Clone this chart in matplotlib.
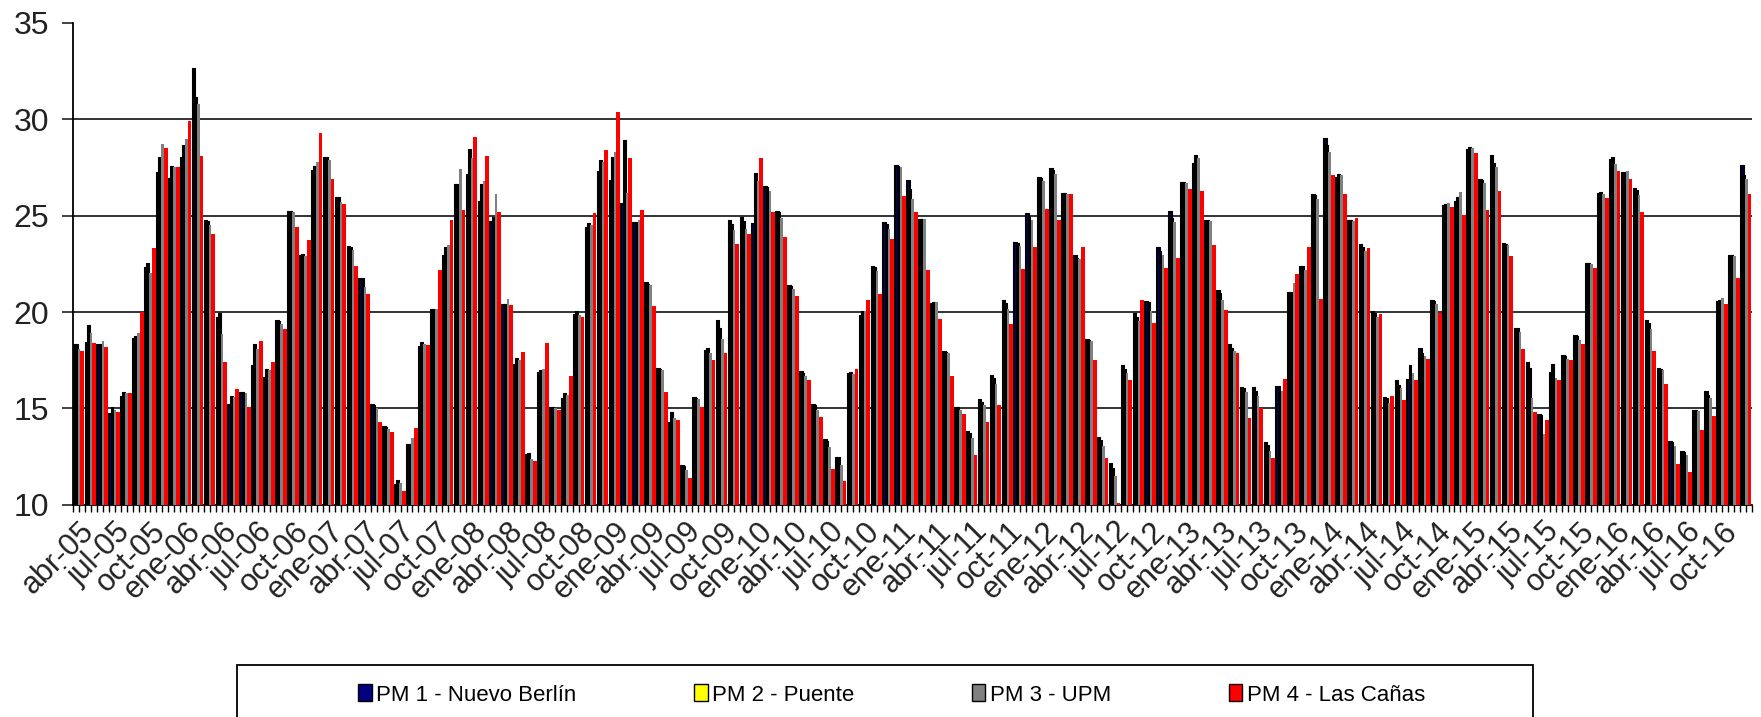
import numpy as np
import matplotlib.pyplot as plt
from matplotlib.patches import Rectangle, Patch

plt.rcParams['font.family'] = ['Liberation Sans', 'DejaVu Sans']

# categorias: meses de abr-05 a dic-16
meses = ['ene', 'feb', 'mar', 'abr', 'may', 'jun', 'jul', 'ago', 'sep', 'oct', 'nov', 'dic']
fechas = []
for anio in range(2005, 2017):
    for i, m in enumerate(meses):
        if anio == 2005 and i < 3:
            continue
        fechas.append('%s-%02d' % (m, anio % 100))

series = ['PM 1 - Nuevo Berlín', 'PM 2 - Puente', 'PM 3 - UPM', 'PM 4 - Las Cañas']
colores = ['#000080', '#FFFF00', '#808080', '#FF0000']

pm1 = [18.3, 18.4, 18.3, 14.7, 15.6, 18.6, 22.3, 27.2, 26.9, 28.0, 32.6, 24.7,
       19.7, 15.2, 15.8, 17.2, 16.6, 19.55, 25.2, 22.9, 27.3, 28.0, 25.9, 23.35,
       21.7, 15.2, 14.05, 11.0, 13.1, 18.2, 20.1, 22.9, 26.6, 27.1, 25.7, 24.65,
       20.35, 17.25, 12.6, 16.85, 15.0, 15.5, 19.85, 24.35, 27.25, 26.8, 25.6, 24.6,
       21.5, 17.05, 14.25, 12.0, 15.55, 18.0, 19.55, 24.7, 24.9, 24.55, 26.5, 25.2,
       21.35, 16.9, 15.2, 13.35, 12.45, 16.8, 19.8, 22.35, 24.6, 27.6, 26.8, 24.8,
       20.4, 17.95, 15.0, 13.75, 15.45, 16.7, 20.55, 23.6, 25.1, 26.95, 27.4, 26.1,
       22.9, 18.55, 13.45, 12.1, 17.2, 19.9, 20.5, 23.3, 25.2, 26.7, 27.7, 24.7,
       21.1, 18.3, 16.05, 16.05, 13.2, 16.1, 21.0, 22.35, 26.05, 29.0, 26.95, 24.7,
       23.5, 20.0, 15.55, 16.4, 16.45, 18.1, 20.55, 25.5, 25.7, 28.4, 26.85, 28.1,
       23.55, 19.1, 17.35, 14.65, 16.85, 17.7, 18.75, 22.5, 26.1, 27.9, 27.2, 26.4,
       19.55, 17.05, 13.25, 12.75, 14.85, 15.85, 20.5, 22.9, 27.6]
pm2 = [18.3, 19.3, 18.3, 15.0, 15.8, 18.7, 22.5, 28.0, 27.5, 28.6, 31.1, 24.65,
       19.9, 15.6, 15.8, 18.3, 17.0, 19.5, 25.2, 22.95, 27.5, 28.0, 25.9, 23.3,
       21.7, 15.1, 14.0, 11.25, 13.1, 18.4, 20.1, 23.3, 26.6, 28.4, 26.6, 24.9,
       20.35, 17.55, 12.65, 16.95, 15.0, 15.75, 20.0, 24.55, 27.85, 28.0, 28.85, 24.6,
       21.4, 17.0, 14.75, 11.95, 15.5, 18.1, 19.1, 24.5, 24.65, 27.15, 26.45, 25.15,
       21.3, 16.8, 15.15, 13.25, 12.45, 16.85, 20.0, 22.3, 24.5, 27.5, 26.35, 24.8,
       20.45, 17.9, 15.0, 13.65, 15.3, 16.5, 20.4, 23.55, 24.9, 26.9, 27.3, 26.15,
       22.75, 18.5, 13.3, 11.85, 17.0, 19.7, 20.45, 23.1, 24.85, 26.7, 28.1, 24.7,
       20.95, 18.1, 16.0, 15.85, 13.05, 16.1, 21.0, 22.35, 26.0, 28.6, 27.1, 24.7,
       23.3, 19.9, 15.5, 16.15, 17.2, 17.8, 20.5, 25.55, 25.9, 28.5, 26.8, 27.7,
       23.5, 19.1, 17.05, 14.6, 17.25, 17.65, 18.7, 22.5, 26.2, 28.0, 27.2, 26.3,
       19.4, 17.0, 13.2, 12.7, 14.85, 15.65, 20.55, 22.9, 27.05]
pm3 = [18.1, 18.9, 18.5, 14.9, 15.8, 18.9, 22.0, 28.7, 27.5, 29.0, 30.8, 24.5,
       18.85, 15.6, 15.8, 18.1, 17.0, 19.4, 25.2, 22.9, 27.8, 27.9, 25.7, 23.2,
       21.3, 15.0, 13.95, 11.15, 13.45, 18.35, 20.15, 23.5, 27.4, 28.0, 26.8, 26.1,
       20.7, 17.5, 12.4, 17.05, 15.0, 15.7, 19.85, 24.5, 27.8, 28.3, 26.2, 24.8,
       21.4, 17.0, 14.5, 11.8, 15.5, 17.9, 18.6, 24.25, 24.3, 26.8, 26.3, 24.9,
       21.2, 16.7, 14.9, 13.0, 12.05, 16.8, 20.05, 22.15, 24.3, 27.5, 25.85, 24.85,
       20.5, 17.9, 14.9, 13.45, 15.2, 16.25, 20.15, 23.45, 24.8, 26.8, 27.15, 26.15,
       22.75, 18.5, 13.05, 11.5, 16.85, 19.55, 20.05, 22.95, 24.65, 26.7, 28.0, 24.7,
       20.6, 18.0, 15.85, 15.65, 12.8, 15.9, 21.5, 22.2, 25.85, 28.3, 27.1, 24.7,
       23.15, 19.75, 15.3, 16.05, 16.85, 17.7, 20.4, 25.65, 26.25, 28.5, 26.7, 27.5,
       23.5, 18.95, 15.55, 13.65, 16.6, 17.55, 18.55, 22.5, 26.1, 27.7, 27.3, 26.05,
       19.1, 17.0, 13.05, 12.6, 14.85, 15.55, 20.75, 22.9, 26.9]
pm4 = [18.0, 18.4, 18.2, 14.8, 15.8, 20.0, 23.3, 28.5, 27.5, 29.9, 28.1, 24.05,
       17.4, 16.0, 15.05, 18.5, 17.4, 19.1, 24.4, 23.75, 29.3, 26.9, 25.6, 22.4,
       20.95, 14.3, 13.8, 10.7, 14.0, 18.3, 22.2, 24.8, 25.3, 29.1, 28.1, 25.2,
       20.35, 17.95, 12.25, 18.4, 14.9, 16.7, 19.75, 25.15, 28.4, 30.4, 28.0, 25.3,
       20.3, 15.85, 14.4, 11.4, 15.05, 17.5, 17.9, 23.55, 24.05, 28.0, 25.2, 23.9,
       20.85, 16.45, 14.55, 11.85, 11.25, 17.05, 20.6, 20.95, 23.8, 26.0, 25.2, 22.2,
       19.65, 16.7, 14.7, 12.6, 14.3, 15.2, 19.4, 22.25, 23.35, 25.35, 24.8, 26.15,
       23.35, 17.5, 12.45, 10.1, 16.45, 20.65, 19.45, 22.3, 22.8, 26.4, 26.3, 23.5,
       20.1, 17.9, 14.5, 15.0, 12.45, 16.5, 21.95, 23.35, 20.7, 27.1, 26.1, 24.9,
       23.3, 19.9, 15.65, 15.45, 16.45, 17.55, 19.95, 25.45, 25.05, 28.25, 25.3, 26.3,
       22.9, 18.1, 14.8, 14.4, 16.45, 17.5, 18.35, 22.3, 25.9, 27.3, 26.9, 25.2,
       18.0, 16.25, 12.1, 11.7, 13.9, 14.6, 20.4, 21.75, 26.1]

x = np.arange(len(fechas))

fig = plt.figure(figsize=(17.61, 7.17), dpi=100)
ax = fig.add_axes([0.0415, 0.296, 0.9535, 0.672])

# barras por mes: PM1 y PM2 con borde negro grueso, PM3 y PM4 sin borde
desp = [-0.34, -0.19, 0.01, 0.28]
anchos = [0.22, 0.16, 0.22, 0.32]
bordes = [1.5, 1.5, 0, 0]
for val, col, d, w, lw, nom in zip([pm1, pm2, pm3, pm4], colores, desp, anchos, bordes, series):
    ax.bar(x + d, val, width=w, color=col, edgecolor='black', linewidth=lw, label=nom, zorder=3)

ax.set_xlim(-0.5, len(fechas) - 0.5)
ax.set_ylim(10, 35)
ax.set_yticks([10, 15, 20, 25, 30, 35])
ax.tick_params(axis='y', labelsize=23, length=8, width=1.2, pad=9, direction='out', colors='#222222')
for yv in [15, 20, 25, 30]:
    ax.axhline(yv, color='#333333', linewidth=1.4, zorder=1)

ax.set_xticks(x[::3])
ax.set_xticklabels(fechas[::3], rotation=45, ha='right', va='top', rotation_mode='anchor',
                   fontsize=22, color='#222222')
ax.set_xticks(np.arange(-0.5, len(fechas), 0.5), minor=True)
ax.tick_params(axis='x', which='both', length=5, width=1.0, direction='out')

for s in ['top', 'right']:
    ax.spines[s].set_visible(False)
ax.spines['left'].set_linewidth(1.3)
ax.spines['bottom'].set_linewidth(1.3)

# leyenda
handles = [Patch(facecolor=c, edgecolor='black', linewidth=1.0) for c in colores]
fig.legend(handles, series, loc='center', bbox_to_anchor=(0.5063, 1 - 695 / 717), ncol=4,
           frameon=False, fontsize=16, columnspacing=5.3, handlelength=0.6,
           handleheight=0.8, handletextpad=0.2)
fig.patches.append(Rectangle((237 / 1761, -0.1), 1296 / 1761, (1 - 665 / 717) + 0.1,
                             transform=fig.transFigure, fill=False, edgecolor='black',
                             linewidth=1.3))

fig.savefig('out.png', dpi=100)
